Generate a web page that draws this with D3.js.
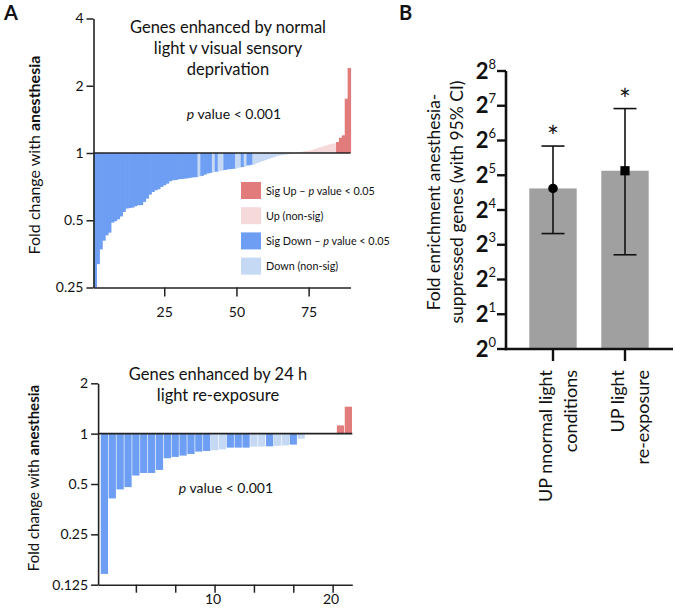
<!DOCTYPE html>
<html><head><meta charset="utf-8">
<script src="https://cdn.jsdelivr.net/npm/d3@7/dist/d3.min.js"></script>
<style>
body{margin:0;background:#fff}
svg{display:block}
text{font-family:Lato,"Open Sans",sans-serif;fill:#111}
</style></head>
<body><svg id="c" width="675" height="613"></svg>
<script>
// ---------- DATA ----------
// Panel A top: fold change with anesthesia, genes enhanced by normal light vs deprivation (sorted)
const topValues = [
 0.25,0.318,0.37,0.405,0.428,0.44,0.488,0.495,0.505,0.52,
 0.545,0.564,0.567,0.57,0.578,0.584,0.584,0.604,0.625,0.651,
 0.669,0.681,0.688,0.705,0.717,0.729,0.747,0.755,0.757,0.763,
 0.765,0.768,0.77,0.775,0.778,0.78,0.785,0.79,0.80,0.81,
 0.815,0.82,0.825,0.83,0.835,0.84,0.845,0.848,0.85,0.855,
 0.86,0.865,0.87,0.88,0.885,0.89,0.90,0.91,0.92,0.93,
 0.94,0.95,0.96,0.97,0.975,0.98,0.985,0.99,0.995,
 1.003,1.006,1.01,1.015,1.02,1.025,1.03,1.04,1.05,1.06,
 1.07,1.08,1.09,1.10,1.105,
 1.12,1.17,1.20,1.75,2.4];
// significance flags (1 = p < 0.05)
const topSig = [
 1,1,1,1,1,1,1,1,1,1, 1,1,1,1,1,1,1,1,1,1, 1,1,1,1,1,1,1,1,1,1,
 1,1,1,1,1,1,0,1,1,1, 1,0,1,0,0,1,1,1,1,0, 0,1,0,1,1,0,0,0,0,0,
 0,0,0,0,0,0,0,0,0,
 0,0,0,0,0,0,0,0,0,0, 0,0,0,0,0,
 1,1,1,1,1];
const topYTicks = [0.25,0.5,1,2,4];
const topYTickLabels = ["0.25","0.5","1","2","4"];
const topXTicks = [25,50,75];

// Panel A bottom: genes enhanced by 24 h light re-exposure
const botValues = [0.145,0.41,0.464,0.479,0.562,0.582,0.582,0.607,0.713,0.726,
 0.739,0.756,0.781,0.788,0.795,0.806,0.825,0.825,0.825,0.837,
 0.837,0.84,0.845,0.85,0.86,0.933,0.995,0.998,1.0,1.0,
 1.12,1.45];
const botSig = [1,1,1,1,1,1,1,1,1,1, 1,1,1,1,0,0,1,1,1,0, 0,1,0,0,1,0,0,0,0,0, 1,1];
const botYTicks = [0.125,0.25,0.5,1,2];
const botYTickLabels = ["0.125","0.25","0.5","1","2"];
const botXTicks = [5,10,15,20,25,30];
const botXTickLabels = ["","","10","","","20"];

// Panel B: fold enrichment of anesthesia-suppressed genes (95% CI)
const bCategories = [["UP nnormal light","conditions"],["UP light","re-exposure"]];
const bValues = [24.6, 35];
const bLower = [10.0, 6.55];
const bUpper = [57.3, 121];
const bMarkers = ["circle","square"];
const bYTicks = [0,1,2,3,4,5,6,7,8]; // exponents of 2

const colors = {sigUp:"#e27b7c", up:"#f6d9da", sigDown:"#6d9ef3", down:"#c6d9f4"};
function barColor(v,s){ return v>=1 ? (s?colors.sigUp:colors.up) : (s?colors.sigDown:colors.down); }

const svg = d3.select("#c");

// ---------- Panel A top ----------
{
 const x = d3.scaleLinear().domain([0.5, topValues.length+0.5]).range([93.5,350.5]);
 const y = d3.scaleLog().base(2).domain([0.25,4]).range([287.5,18.5]);
 const g = svg.append("g");
 const w = x(1.5)-x(0.5);
 g.selectAll("rect").data(topValues).join("rect")
  .attr("x",(d,i)=>x(i+0.5))
  .attr("width",w+0.6)
  .attr("y",d=>Math.min(y(1),y(Math.max(d,0.25))))
  .attr("height",d=>Math.abs(y(Math.max(d,0.25))-y(1)))
  .attr("fill",(d,i)=>barColor(d,topSig[i]));
 g.append("line").attr("x1",x(0.5)).attr("x2",x(topValues.length+0.5))
  .attr("y1",y(1)).attr("y2",y(1)).attr("stroke","#222").attr("stroke-width",1.6);
 const ya = g.append("g").attr("transform",`translate(${x(0.5)},0)`)
  .call(d3.axisLeft(y).tickValues(topYTicks).tickFormat((d,i)=>topYTickLabels[i]).tickSize(7).tickSizeOuter(0));
 const xa = g.append("g").attr("transform",`translate(0,${y(0.25)})`)
  .call(d3.axisBottom(x).tickValues(topXTicks).tickFormat(d3.format("d")).tickSize(9).tickSizeOuter(0));
 [ya,xa].forEach(a=>{a.select(".domain").attr("stroke","#222").attr("stroke-width",1.6);
   a.selectAll(".tick line").attr("stroke","#222").attr("stroke-width",1.5);
   a.selectAll("text").attr("font-family","Lato").attr("font-size",14).attr("fill","#111");});
 xa.selectAll("text").attr("dy","1.25em");
 // titles
 const tt = g.append("text").attr("text-anchor","middle").attr("font-size",16.5);
 ["Genes enhanced by normal","light v visual sensory","deprivation"].forEach((s,i)=>
   tt.append("tspan").attr("x",228).attr("y",33+i*21).text(s));
 const pv = g.append("text").attr("x",234).attr("y",119).attr("text-anchor","middle").attr("font-size",14);
 pv.append("tspan").attr("font-style","italic").text("p");
 pv.append("tspan").text(" value < 0.001");
 // y label
 const yl = g.append("text").attr("transform","translate(40,155) rotate(-90)").attr("text-anchor","middle").attr("font-size",16);
 yl.append("tspan").text("Fold change with ");
 yl.append("tspan").attr("font-weight","bold").text("anesthesia");
 // legend
 const leg = [["sigUp",["Sig Up \u2013  ","p"," value < 0.05"]],["up",["Up (non-sig)"]],
   ["sigDown",["Sig Down \u2013 ","p"," value < 0.05"]],["down",["Down (non-sig)"]]];
 leg.forEach((L,i)=>{
   const yy = 182+i*25.2;
   g.append("rect").attr("x",241).attr("y",yy).attr("width",20).attr("height",17).attr("fill",colors[L[0]]);
   const t = g.append("text").attr("x",266).attr("y",yy+12.5).attr("font-size",10.8);
   L[1].forEach(s=>t.append("tspan").attr("font-style",s==="p"?"italic":null).text(s));
 });
}

// ---------- Panel A bottom ----------
{
 const x = d3.scaleLinear().domain([0.2, 32.5]).range([98.1,352.3]);
 const y = d3.scaleLog().base(2).domain([0.125,2]).range([584.7,383.3]);
 const g = svg.append("g");
 const step = x(2)-x(1);
 g.selectAll("rect").data(botValues).join("rect")
  .attr("x",(d,i)=>x(i+1)-step*0.46)
  .attr("width",step*0.92)
  .attr("y",d=>Math.min(y(1),y(d)))
  .attr("height",d=>Math.abs(y(d)-y(1)))
  .attr("fill",(d,i)=>barColor(d,botSig[i]));
 g.append("line").attr("x1",x(0.2)).attr("x2",x(32.5))
  .attr("y1",y(1)).attr("y2",y(1)).attr("stroke","#222").attr("stroke-width",1.6);
 const ya = g.append("g").attr("transform",`translate(${x(0.2)},0)`)
  .call(d3.axisLeft(y).tickValues(botYTicks).tickFormat((d,i)=>botYTickLabels[i]).tickSize(7).tickSizeOuter(0));
 const xa = g.append("g").attr("transform",`translate(0,${y(0.125)})`)
  .call(d3.axisBottom(x).tickValues(botXTicks).tickFormat((d,i)=>botXTickLabels[i]).tickSize(8).tickSizeOuter(0));
 [ya,xa].forEach(a=>{a.select(".domain").attr("stroke","#222").attr("stroke-width",1.6);
   a.selectAll(".tick line").attr("stroke","#222").attr("stroke-width",1.5);
   a.selectAll("text").attr("font-family","Lato").attr("font-size",14).attr("fill","#111");});
 xa.selectAll("text").attr("dy","0.62em").attr("dx","-2");
 const tt = g.append("text").attr("text-anchor","middle").attr("font-size",16.5);
 ["Genes enhanced by 24 h","light re-exposure"].forEach((s,i)=>
   tt.append("tspan").attr("x",218).attr("y",380+i*21).text(s));
 const pv = g.append("text").attr("x",226).attr("y",493).attr("text-anchor","middle").attr("font-size",14);
 pv.append("tspan").attr("font-style","italic").text("p");
 pv.append("tspan").text(" value < 0.001");
 const yl = g.append("text").attr("transform","translate(39,478) rotate(-90)").attr("text-anchor","middle").attr("font-size",15);
 yl.append("tspan").text("Fold change with ");
 yl.append("tspan").attr("font-weight","bold").text("anesthesia");
}

// ---------- Panel B ----------
{
 const y = d3.scaleLog().base(2).domain([1,256]).range([349,71]);
 const x = d3.scaleBand().domain(bCategories.map((d,i)=>i)).range([517,661]).paddingInner(0.5).paddingOuter(0.25);
 const g = svg.append("g");
 g.selectAll("rect").data(bValues).join("rect")
  .attr("x",(d,i)=>x(i)+x.bandwidth()/2-23.7).attr("width",47.4)
  .attr("y",d=>y(d)).attr("height",d=>y(1)-y(d)).attr("fill","#a0a0a0");
 const cx = i=>x(i)+x.bandwidth()/2;
 bValues.forEach((v,i)=>{
   g.append("line").attr("x1",cx(i)).attr("x2",cx(i)).attr("y1",y(bLower[i])).attr("y2",y(bUpper[i])).attr("stroke","#111").attr("stroke-width",1.6);
   [bLower[i],bUpper[i]].forEach(e=>g.append("line").attr("x1",cx(i)-11.5).attr("x2",cx(i)+11.5)
     .attr("y1",y(e)).attr("y2",y(e)).attr("stroke","#111").attr("stroke-width",1.6));
   if(bMarkers[i]==="circle") g.append("circle").attr("cx",cx(i)).attr("cy",y(v)).attr("r",4.8).attr("fill","#000");
   else g.append("rect").attr("x",cx(i)-4.6).attr("y",y(v)-4.6).attr("width",9.2).attr("height",9.2).attr("fill","#000");
   g.append("text").attr("x",cx(i)).attr("y",y(bUpper[i])+1).attr("text-anchor","middle").attr("font-size",28).text("*");
 });
 // axes
 g.append("line").attr("x1",506).attr("x2",506).attr("y1",y(256)).attr("y2",y(1)+1.2).attr("stroke","#111").attr("stroke-width",2.6);
 g.append("line").attr("x1",504.7).attr("x2",673).attr("y1",y(1)).attr("y2",y(1)).attr("stroke","#111").attr("stroke-width",2.6);
 bYTicks.forEach(e=>{
   g.append("line").attr("x1",497).attr("x2",506).attr("y1",y(Math.pow(2,e))).attr("y2",y(Math.pow(2,e))).attr("stroke","#111").attr("stroke-width",2.4);
   const t = g.append("text").attr("x",496).attr("y",y(Math.pow(2,e))+7.5).attr("text-anchor","end")
     .attr("font-family","Liberation Sans, Arial, sans-serif");
   t.append("tspan").attr("font-size",22).attr("font-weight","bold").text("2");
   t.append("tspan").attr("font-size",13).attr("dy",-10).text(e);
 });
 bCategories.forEach((c,i)=>{
   g.append("line").attr("x1",cx(i)).attr("x2",cx(i)).attr("y1",y(1)).attr("y2",y(1)+12).attr("stroke","#111").attr("stroke-width",2.4);
   c.forEach((s,j)=>g.append("text").attr("transform",`translate(${cx(i)-1+j*25},370) rotate(-90)`)
     .attr("text-anchor","end").attr("font-size",18).text(s));
 });
 const yl = g.append("text").attr("text-anchor","middle").attr("font-size",17.5).attr("transform","translate(0,202) rotate(-90)");
 yl.append("tspan").attr("x",0).attr("y",440).text("Fold enrichment anesthesia-");
 yl.append("tspan").attr("x",0).attr("y",463).text("suppressed genes  (with 95% CI)");
}

// panel letters
svg.append("text").attr("x",4).attr("y",20).attr("font-family","Liberation Sans, Arial").attr("font-weight","bold").attr("font-size",20).text("A");
svg.append("text").attr("x",399).attr("y",20).attr("font-family","Liberation Sans, Arial").attr("font-weight","bold").attr("font-size",20).text("B");
</script></body></html>
